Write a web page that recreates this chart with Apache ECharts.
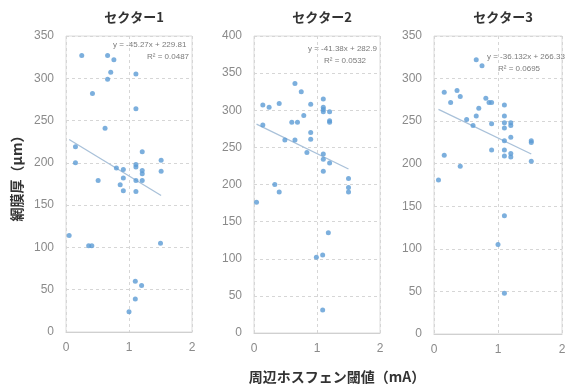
<!DOCTYPE html>
<html>
<head>
<meta charset="utf-8">
<script src="https://cdn.jsdelivr.net/npm/echarts@6/dist/echarts.min.js"></script>
<style>
  html, body { margin: 0; padding: 0; background: #ffffff; }
  #chart { width: 571px; height: 391px; }
</style>
</head>
<body>
<div id="chart"></div>
<script>
// Panel titles
const sectorNames = ['セクター1', 'セクター2', 'セクター3'];

// Sector 1: threshold (mA) vs retinal thickness (µm)
const s1x = [0.25, 0.66, 0.76, 0.71, 0.66, 1.11, 0.42, 1.11, 0.62, 0.15, 0.15, 0.80, 0.91, 1.11, 1.11, 1.21, 1.21, 1.21, 1.51, 1.51, 0.51, 0.91, 0.86, 1.11, 1.21, 0.91, 1.11, 0.05, 0.36, 0.41, 1.50, 1.10, 1.20, 1.10, 1.00];
const s1y = [327, 327, 322, 307, 299, 305, 282, 264, 241, 219, 200, 194, 192, 198, 195, 213, 191, 187, 203, 190, 179, 182, 174, 179, 179, 167, 166, 114, 102, 102, 105, 60, 55, 39, 24];

// Sector 2
const s2x = [0.65, 0.75, 0.14, 0.24, 0.40, 0.90, 0.79, 0.14, 0.60, 0.69, 1.10, 1.10, 1.10, 1.10, 1.20, 1.20, 1.20, 0.90, 0.90, 0.49, 0.65, 0.84, 1.10, 1.10, 1.20, 1.10, 1.50, 1.50, 1.50, 0.33, 0.40, 0.04, 1.18, 0.99, 1.09, 1.09];
const s2y = [336, 325, 307, 304, 309, 308, 293, 280, 284, 284, 315, 304, 301, 298, 298, 286, 284, 270, 261, 260, 260, 243, 241, 234, 229, 218, 208, 196, 190, 200, 190, 176, 135, 102, 105, 31];

// Sector 3
const s3x = [0.66, 0.75, 0.16, 0.36, 0.41, 0.26, 0.81, 0.86, 0.90, 0.70, 1.10, 0.66, 0.51, 0.61, 0.90, 1.10, 1.10, 1.10, 1.20, 1.20, 1.20, 1.10, 1.52, 1.52, 0.90, 1.10, 1.20, 1.10, 1.20, 1.52, 0.16, 0.41, 0.07, 1.10, 1.00, 1.10];
const s3y = [322, 315, 284, 286, 279, 272, 277, 272, 272, 265, 269, 256, 252, 245, 247, 256, 248, 242, 248, 245, 231, 227, 227, 225, 216, 216, 212, 209, 208, 203, 210, 197, 181, 139, 105, 48];

// Linear trend lines (as printed on each panel)
const slopes = [-45.27, -41.38, -36.132];
const intercepts = [229.81, 282.9, 266.33];
const r2Values = ['0.0487', '0.0532', '0.0695'];

// Axis ranges
const yMax = [350, 400, 350];
const xTicks = [0, 1, 2];

const xs = [s1x, s2x, s3x];
const ys = [s1y, s2y, s3y];

// Layout of the three plot areas (pixels)
const gridBoxes = [
  { left: 66, top: 36, width: 126, height: 296 },
  { left: 254, top: 36, width: 126, height: 297 },
  { left: 434, top: 36, width: 128, height: 298 }
];

const FONT = '"Noto Sans CJK JP", "Noto Sans", sans-serif';
const DOT = '#5b9bd5';
const GRID_LINE = '#d6d6d6';
const TICK = '#8a8a8a';

const chart = echarts.init(document.getElementById('chart'), null, { renderer: 'canvas' });

const grids = [], xAxes = [], yAxes = [], series = [], titles = [];

gridBoxes.forEach((g, i) => {
  grids.push(Object.assign({ show: true, borderColor: '#dcdcdc', borderWidth: 1, backgroundColor: 'transparent' }, g));

  xAxes.push({
    type: 'value', gridIndex: i, min: 0, max: 2, interval: 1,
    axisLine: { show: true, lineStyle: { color: '#d0d0d0' } },
    axisTick: { show: false },
    axisLabel: { color: TICK, fontSize: 12, fontFamily: 'Liberation Sans, sans-serif', margin: 10 },
    splitLine: { show: true, lineStyle: { color: GRID_LINE, type: [3, 3] } }
  });

  yAxes.push({
    type: 'value', gridIndex: i, min: 0, max: yMax[i], interval: 50,
    axisLine: { show: false },
    axisTick: { show: false },
    axisLabel: { color: TICK, fontSize: 12, fontFamily: 'Liberation Sans, sans-serif', margin: 12 },
    splitLine: { show: true, lineStyle: { color: GRID_LINE, type: [3, 3] } }
  });

  // trend line spans the observed x range
  const xMin = Math.min(...xs[i]);
  const xMaxV = Math.max(...xs[i]);
  series.push({
    type: 'line', xAxisIndex: i, yAxisIndex: i,
    data: [[xMin, intercepts[i] + slopes[i] * xMin], [xMaxV, intercepts[i] + slopes[i] * xMaxV]],
    symbol: 'none', silent: true,
    lineStyle: { color: '#a9c1d9', width: 1.3 },
    z: 2
  });

  series.push({
    type: 'scatter', xAxisIndex: i, yAxisIndex: i,
    data: xs[i].map((x, k) => [x, ys[i][k]]),
    symbol: 'circle', symbolSize: 5,
    itemStyle: { color: DOT },
    z: 3
  });

  titles.push({
    text: sectorNames[i],
    left: g.left + g.width / 2, top: 6, textAlign: 'center',
    textStyle: { fontFamily: FONT, fontSize: 13, fontWeight: 'bold', color: '#333333' }
  });
});

function fmtEq(i) {
  const b = intercepts[i];
  const bStr = (i === 0) ? b.toFixed(2) : (i === 1 ? b.toFixed(1) : b.toFixed(2));
  return 'y = ' + slopes[i] + 'x + ' + bStr;
}

const eqStyle = { fontFamily: 'Liberation Sans, sans-serif', fontSize: 8, fill: '#7a7a7a' };
const graphics = [
  // equation labels
  { type: 'text', left: 113, top: 41, style: Object.assign({ text: fmtEq(0) }, eqStyle) },
  { type: 'text', left: 147, top: 53, style: Object.assign({ text: 'R² = ' + r2Values[0] }, eqStyle) },
  { type: 'text', left: 308, top: 45, style: Object.assign({ text: fmtEq(1) }, eqStyle) },
  { type: 'text', left: 324, top: 57, style: Object.assign({ text: 'R² = ' + r2Values[1] }, eqStyle) },
  { type: 'text', x: 487, y: 53, style: Object.assign({ text: fmtEq(2) }, eqStyle) },
  { type: 'text', left: 498, top: 65, style: Object.assign({ text: 'R² = ' + r2Values[2] }, eqStyle) },
  // axis names
  {
    type: 'text', x: 17, y: 175, rotation: Math.PI / 2,
    style: { text: '網膜厚（μm）', fontFamily: FONT, fontSize: 14, fontWeight: 'bold', fill: '#333333', textAlign: 'center', textVerticalAlign: 'middle' }
  },
  {
    type: 'text', x: 337, y: 377,
    style: { text: '周辺ホスフェン閾値（mA）', fontFamily: FONT, fontSize: 14, fontWeight: 'bold', fill: '#333333', textAlign: 'center', textVerticalAlign: 'middle' }
  }
];

chart.setOption({
  backgroundColor: '#ffffff',
  animation: false,
  title: titles,
  grid: grids,
  xAxis: xAxes,
  yAxis: yAxes,
  series: series,
  graphic: graphics
});
</script>
</body>
</html>
